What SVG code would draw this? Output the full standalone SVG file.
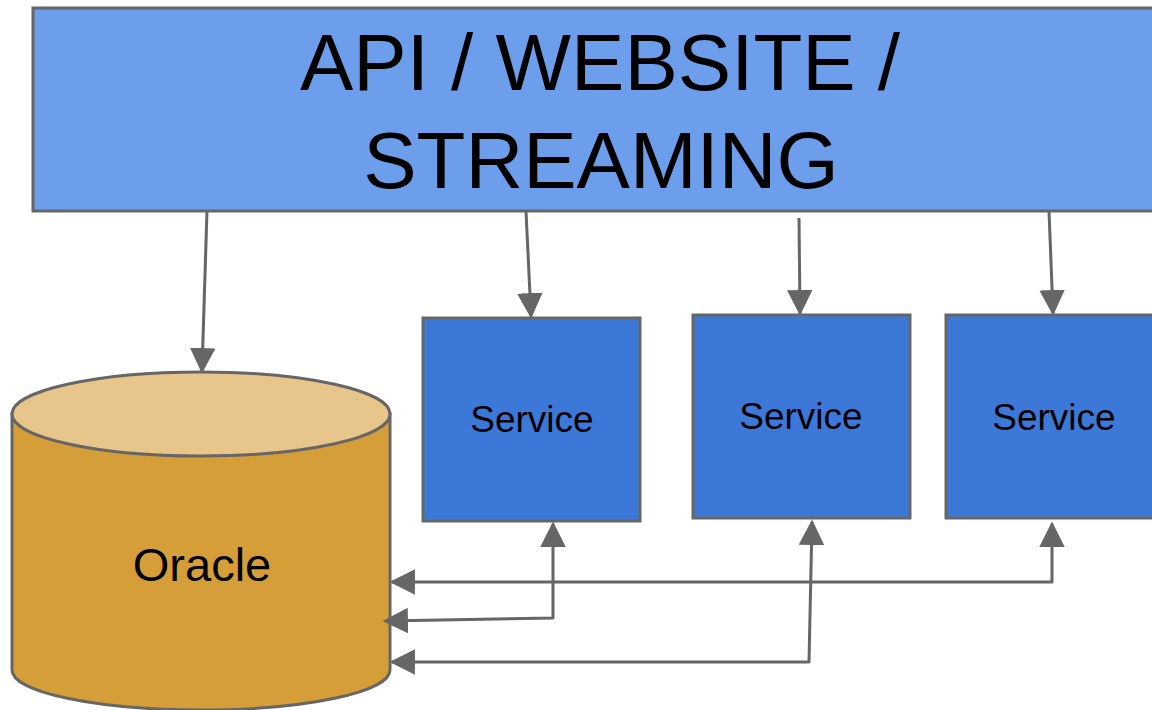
<svg xmlns="http://www.w3.org/2000/svg" width="1152" height="710" viewBox="0 0 1152 710">
<defs>
<marker id="ah" viewBox="0 0 10 10" refX="9" refY="5" markerWidth="8.5" markerHeight="8.5" markerUnits="strokeWidth" orient="auto-start-reverse">
<path d="M0,0 L10,5 L0,10 z" fill="#666666"/>
</marker>
<style>
.lbl{font-family:"Liberation Sans",Arial,sans-serif;fill:#000;text-anchor:middle}
.svc{fill:#3c78d8;stroke:#666666;stroke-width:3}
.conn{fill:none;stroke:#666666;stroke-width:3;stroke-linejoin:round;marker-end:url(#ah)}
.both{marker-start:url(#ah)}
</style>
</defs>
<rect width="1152" height="710" fill="#ffffff"/>
<g id="banner">
<rect x="33" y="8" width="1130" height="203" fill="#6d9eeb" stroke="#666666" stroke-width="3"/>
<text class="lbl" x="600" y="90" font-size="80">API / WEBSITE /</text>
<text class="lbl" x="601" y="188" font-size="80">STREAMING</text>
</g>
<g id="oracle">
<path d="M12,414 L12,670 A189,40 0 0 0 390,670 L390,414 Z" fill="#d69e38" stroke="#666666" stroke-width="3"/>
<ellipse cx="201" cy="414" rx="189" ry="42" fill="#e8c58a" stroke="#666666" stroke-width="3"/>
<text class="lbl" x="202" y="581" font-size="47">Oracle</text>
</g>
<g id="service1">
<rect class="svc" x="423" y="318" width="217" height="203"/>
<text class="lbl" x="532" y="432" font-size="37">Service</text>
</g>
<g id="service2">
<rect class="svc" x="693" y="315" width="217" height="203"/>
<text class="lbl" x="801" y="429" font-size="37">Service</text>
</g>
<g id="service3">
<rect class="svc" x="946" y="315" width="220" height="203"/>
<text class="lbl" x="1054" y="430" font-size="37">Service</text>
</g>
<g id="connectors">
<path class="conn" d="M207,211 L202,371"/>
<path class="conn" d="M526,211 L531,316"/>
<path class="conn" d="M799,218 L800,313"/>
<path class="conn" d="M1049,211 L1053,313"/>
<path class="conn both" d="M1052,524 L1052,582 L392,582"/>
<path class="conn both" d="M553,524 L553,618 L385,621"/>
<path class="conn both" d="M812,522 L809,662 L392,662"/>
</g>
</svg>
